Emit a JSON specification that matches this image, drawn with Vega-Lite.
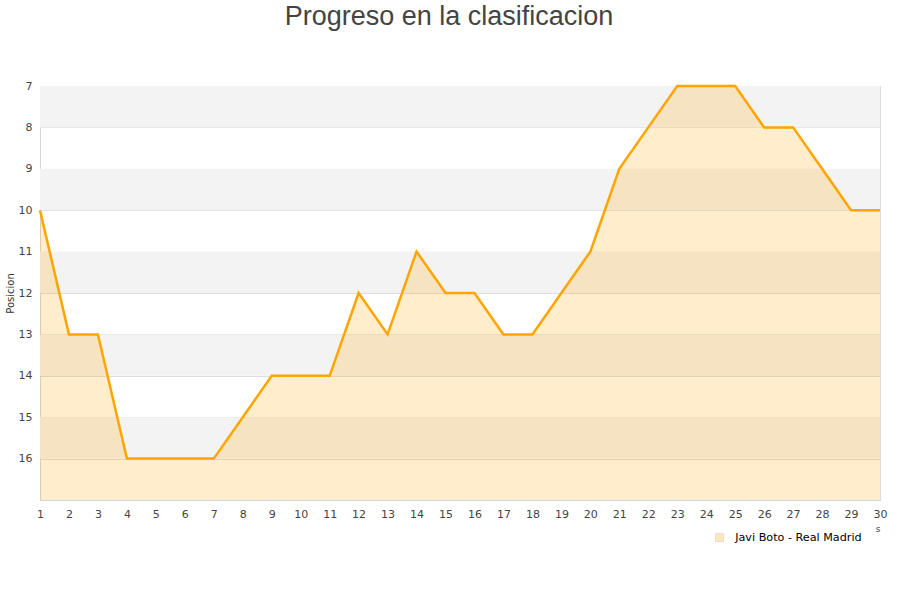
{
  "$schema": "https://vega.github.io/schema/vega-lite/v6.json",
  "width": 840,
  "height": 414,
  "autosize": {"type": "none"},
  "padding": {"left": 40, "top": 86, "right": 20, "bottom": 100},
  "background": "white",
  "title": {
    "text": "Progreso en la clasificacion",
    "font": "Liberation Sans",
    "fontSize": 27,
    "fontWeight": "normal",
    "color": "#444444",
    "anchor": "middle",
    "dx": -11,
    "offset": 49
  },
  "config": {
    "view": {"stroke": "#dddddd"},
    "axis": {
      "labelFont": "DejaVu Sans",
      "labelFontSize": 11,
      "labelColor": "#444444",
      "titleFont": "DejaVu Sans",
      "titleFontWeight": "normal",
      "titleColor": "#333333",
      "domainColor": "#d6d6d6",
      "ticks": false,
      "labelFlush": false
    }
  },
  "datasets": {
    "bands": [
      {"b0": 7, "b1": 8},
      {"b0": 9, "b1": 10},
      {"b0": 11, "b1": 12},
      {"b0": 13, "b1": 14},
      {"b0": 15, "b1": 16}
    ],
    "pos": [
      {"jornada": 1, "posicion": 10, "serie": "Javi Boto - Real Madrid"},
      {"jornada": 2, "posicion": 13, "serie": "Javi Boto - Real Madrid"},
      {"jornada": 3, "posicion": 13, "serie": "Javi Boto - Real Madrid"},
      {"jornada": 4, "posicion": 16, "serie": "Javi Boto - Real Madrid"},
      {"jornada": 5, "posicion": 16, "serie": "Javi Boto - Real Madrid"},
      {"jornada": 6, "posicion": 16, "serie": "Javi Boto - Real Madrid"},
      {"jornada": 7, "posicion": 16, "serie": "Javi Boto - Real Madrid"},
      {"jornada": 8, "posicion": 15, "serie": "Javi Boto - Real Madrid"},
      {"jornada": 9, "posicion": 14, "serie": "Javi Boto - Real Madrid"},
      {"jornada": 10, "posicion": 14, "serie": "Javi Boto - Real Madrid"},
      {"jornada": 11, "posicion": 14, "serie": "Javi Boto - Real Madrid"},
      {"jornada": 12, "posicion": 12, "serie": "Javi Boto - Real Madrid"},
      {"jornada": 13, "posicion": 13, "serie": "Javi Boto - Real Madrid"},
      {"jornada": 14, "posicion": 11, "serie": "Javi Boto - Real Madrid"},
      {"jornada": 15, "posicion": 12, "serie": "Javi Boto - Real Madrid"},
      {"jornada": 16, "posicion": 12, "serie": "Javi Boto - Real Madrid"},
      {"jornada": 17, "posicion": 13, "serie": "Javi Boto - Real Madrid"},
      {"jornada": 18, "posicion": 13, "serie": "Javi Boto - Real Madrid"},
      {"jornada": 19, "posicion": 12, "serie": "Javi Boto - Real Madrid"},
      {"jornada": 20, "posicion": 11, "serie": "Javi Boto - Real Madrid"},
      {"jornada": 21, "posicion": 9, "serie": "Javi Boto - Real Madrid"},
      {"jornada": 22, "posicion": 8, "serie": "Javi Boto - Real Madrid"},
      {"jornada": 23, "posicion": 7, "serie": "Javi Boto - Real Madrid"},
      {"jornada": 24, "posicion": 7, "serie": "Javi Boto - Real Madrid"},
      {"jornada": 25, "posicion": 7, "serie": "Javi Boto - Real Madrid"},
      {"jornada": 26, "posicion": 8, "serie": "Javi Boto - Real Madrid"},
      {"jornada": 27, "posicion": 8, "serie": "Javi Boto - Real Madrid"},
      {"jornada": 28, "posicion": 9, "serie": "Javi Boto - Real Madrid"},
      {"jornada": 29, "posicion": 10, "serie": "Javi Boto - Real Madrid"},
      {"jornada": 30, "posicion": 10, "serie": "Javi Boto - Real Madrid"}
    ]
  },
  "layer": [
    {
      "data": {"name": "bands"},
      "mark": {"type": "rect", "color": "#f3f3f3"},
      "encoding": {
        "y": {
          "field": "b0", "type": "quantitative",
          "scale": {"domain": [7, 17], "reverse": true, "nice": false, "zero": false},
          "axis": {"values": [7,8,9,10,11,12,13,14,15,16], "title": "Posicion", "titleFontSize": 10, "titlePadding": 3, "labelPadding": 8, "gridColor": "#dddddd", "gridOpacity": 1}
        },
        "y2": {"field": "b1"}
      }
    },
    {
      "data": {"name": "pos"},
      "mark": {"type": "area", "fillOpacity": 0.2, "interpolate": "linear"},
      "encoding": {
        "x": {
          "field": "jornada", "type": "ordinal",
          "scale": {"type": "point", "padding": 0},
          "axis": {"labelAngle": 0, "labelOverlap": false, "labelFlush": false, "grid": false, "labelPadding": 8, "title": "s", "titleFontSize": 9, "titleAnchor": "end", "titleAlign": "right", "titlePadding": 5, "titleColor": "#444444"}
        },
        "y": {"field": "posicion", "type": "quantitative"},
        "y2": {"datum": 17},
        "fill": {
          "field": "serie", "type": "nominal",
          "scale": {"range": ["#ffa500"]},
          "legend": {
            "title": null,
            "orient": "none",
            "legendX": 674,
            "legendY": 446,
            "symbolType": "square",
            "symbolSize": 64,
            "symbolOpacity": 0.25,
            "symbolStrokeColor": "#8a7a60",
            "symbolStrokeWidth": 1,
            "labelOffset": 10,
            "labelFont": "DejaVu Sans",
            "labelFontSize": 11.2,
            "labelColor": "#000000"
          }
        }
      }
    },
    {
      "data": {"name": "pos"},
      "mark": {"type": "line", "color": "#ffa500", "strokeWidth": 2.5},
      "encoding": {
        "x": {"field": "jornada", "type": "ordinal"},
        "y": {"field": "posicion", "type": "quantitative"}
      }
    }
  ]
}
